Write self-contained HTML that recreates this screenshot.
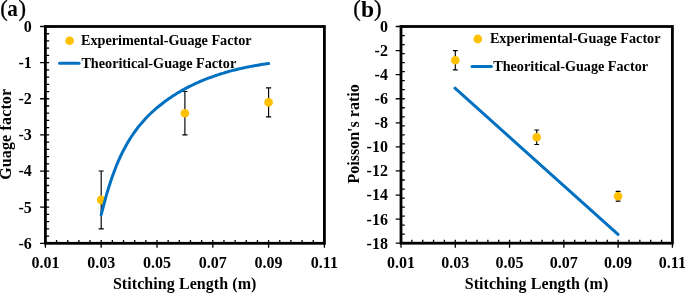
<!DOCTYPE html>
<html><head><meta charset="utf-8"><title>Figure</title>
<style>
html,body{margin:0;padding:0;background:#fff;}
body{width:685px;height:293px;overflow:hidden;}
svg text{font-family:"Liberation Serif",serif;font-weight:bold;fill:#000;}
.t16{font-size:16px;}
.lg{font-size:14.2px;}
.pl{font-size:22.5px;}
.pp{font-size:22.6px;font-weight:normal;stroke:#000;stroke-width:0.3px;}
</style></head><body>
<svg width="685" height="293" viewBox="0 0 685 293" style="display:block">
<rect x="0" y="0" width="685" height="293" fill="#ffffff"/>
<rect x="45.4" y="26.5" width="279.00" height="216.80" fill="none" stroke="#000" stroke-width="2.8"/>
<path d="M40.10 26.50H45.40M40.10 62.63H45.40M40.10 98.77H45.40M40.10 134.90H45.40M40.10 171.03H45.40M40.10 207.17H45.40M40.10 243.30H45.40M45.40 26.50H49.20M45.40 33.73H49.20M45.40 40.95H49.20M45.40 48.18H49.20M45.40 55.41H49.20M45.40 62.63H49.20M45.40 69.86H49.20M45.40 77.09H49.20M45.40 84.31H49.20M45.40 91.54H49.20M45.40 98.77H49.20M45.40 105.99H49.20M45.40 113.22H49.20M45.40 120.45H49.20M45.40 127.67H49.20M45.40 134.90H49.20M45.40 142.13H49.20M45.40 149.35H49.20M45.40 156.58H49.20M45.40 163.81H49.20M45.40 171.03H49.20M45.40 178.26H49.20M45.40 185.49H49.20M45.40 192.71H49.20M45.40 199.94H49.20M45.40 207.17H49.20M45.40 214.39H49.20M45.40 221.62H49.20M45.40 228.85H49.20M45.40 236.07H49.20M45.40 243.30H49.20M45.40 243.30V247.80M101.20 243.30V247.80M157.00 243.30V247.80M212.80 243.30V247.80M268.60 243.30V247.80M324.40 243.30V247.80M45.40 243.30V239.90M56.56 243.30V239.90M67.72 243.30V239.90M78.88 243.30V239.90M90.04 243.30V239.90M101.20 243.30V239.90M112.36 243.30V239.90M123.52 243.30V239.90M134.68 243.30V239.90M145.84 243.30V239.90M157.00 243.30V239.90M168.16 243.30V239.90M179.32 243.30V239.90M190.48 243.30V239.90M201.64 243.30V239.90M212.80 243.30V239.90M223.96 243.30V239.90M235.12 243.30V239.90M246.28 243.30V239.90M257.44 243.30V239.90M268.60 243.30V239.90M279.76 243.30V239.90M290.92 243.30V239.90M302.08 243.30V239.90M313.24 243.30V239.90M324.40 243.30V239.90" stroke="#000" stroke-width="1.3" fill="none"/>
<text x="31.8" y="31.90" text-anchor="end" class="t16">0</text>
<text x="31.8" y="68.03" text-anchor="end" class="t16">-1</text>
<text x="31.8" y="104.17" text-anchor="end" class="t16">-2</text>
<text x="31.8" y="140.30" text-anchor="end" class="t16">-3</text>
<text x="31.8" y="176.43" text-anchor="end" class="t16">-4</text>
<text x="31.8" y="212.57" text-anchor="end" class="t16">-5</text>
<text x="31.8" y="248.70" text-anchor="end" class="t16">-6</text>
<text x="45.40" y="268" text-anchor="middle" class="t16">0.01</text>
<text x="101.20" y="268" text-anchor="middle" class="t16">0.03</text>
<text x="157.00" y="268" text-anchor="middle" class="t16">0.05</text>
<text x="212.80" y="268" text-anchor="middle" class="t16">0.07</text>
<text x="268.60" y="268" text-anchor="middle" class="t16">0.09</text>
<text x="324.40" y="268" text-anchor="middle" class="t16">0.11</text>
<text x="184.70" y="288.7" text-anchor="middle" class="t16" letter-spacing="0.07">Stitching Length (m)</text>
<rect x="401.0" y="26.5" width="271.40" height="216.70" fill="none" stroke="#000" stroke-width="2.8"/>
<path d="M395.70 26.50H401.00M395.70 50.58H401.00M395.70 74.66H401.00M395.70 98.73H401.00M395.70 122.81H401.00M395.70 146.89H401.00M395.70 170.97H401.00M395.70 195.04H401.00M395.70 219.12H401.00M395.70 243.20H401.00M401.00 26.50H404.80M401.00 35.53H404.80M401.00 44.56H404.80M401.00 53.59H404.80M401.00 62.62H404.80M401.00 71.65H404.80M401.00 80.67H404.80M401.00 89.70H404.80M401.00 98.73H404.80M401.00 107.76H404.80M401.00 116.79H404.80M401.00 125.82H404.80M401.00 134.85H404.80M401.00 143.88H404.80M401.00 152.91H404.80M401.00 161.94H404.80M401.00 170.97H404.80M401.00 180.00H404.80M401.00 189.03H404.80M401.00 198.05H404.80M401.00 207.08H404.80M401.00 216.11H404.80M401.00 225.14H404.80M401.00 234.17H404.80M401.00 243.20H404.80M401.00 243.20V247.70M455.28 243.20V247.70M509.56 243.20V247.70M563.84 243.20V247.70M618.12 243.20V247.70M672.40 243.20V247.70M401.00 243.20V239.80M411.86 243.20V239.80M422.71 243.20V239.80M433.57 243.20V239.80M444.42 243.20V239.80M455.28 243.20V239.80M466.14 243.20V239.80M476.99 243.20V239.80M487.85 243.20V239.80M498.70 243.20V239.80M509.56 243.20V239.80M520.42 243.20V239.80M531.27 243.20V239.80M542.13 243.20V239.80M552.98 243.20V239.80M563.84 243.20V239.80M574.70 243.20V239.80M585.55 243.20V239.80M596.41 243.20V239.80M607.26 243.20V239.80M618.12 243.20V239.80M628.98 243.20V239.80M639.83 243.20V239.80M650.69 243.20V239.80M661.54 243.20V239.80M672.40 243.20V239.80" stroke="#000" stroke-width="1.3" fill="none"/>
<text x="387.9" y="31.90" text-anchor="end" class="t16">0</text>
<text x="387.9" y="55.98" text-anchor="end" class="t16">-2</text>
<text x="387.9" y="80.06" text-anchor="end" class="t16">-4</text>
<text x="387.9" y="104.13" text-anchor="end" class="t16">-6</text>
<text x="387.9" y="128.21" text-anchor="end" class="t16">-8</text>
<text x="387.9" y="152.29" text-anchor="end" class="t16">-10</text>
<text x="387.9" y="176.37" text-anchor="end" class="t16">-12</text>
<text x="387.9" y="200.44" text-anchor="end" class="t16">-14</text>
<text x="387.9" y="224.52" text-anchor="end" class="t16">-16</text>
<text x="387.9" y="248.60" text-anchor="end" class="t16">-18</text>
<text x="401.00" y="268" text-anchor="middle" class="t16">0.01</text>
<text x="455.28" y="268" text-anchor="middle" class="t16">0.03</text>
<text x="509.56" y="268" text-anchor="middle" class="t16">0.05</text>
<text x="563.84" y="268" text-anchor="middle" class="t16">0.07</text>
<text x="618.12" y="268" text-anchor="middle" class="t16">0.09</text>
<text x="672.40" y="268" text-anchor="middle" class="t16">0.11</text>
<text x="536.50" y="288.7" text-anchor="middle" class="t16" letter-spacing="0.07">Stitching Length (m)</text>
<text transform="translate(11.3 134.3) rotate(-90)" text-anchor="middle" class="t16" letter-spacing="0.15">Guage factor</text>
<text transform="translate(359.4 133.9) rotate(-90)" text-anchor="middle" class="t16">Poisson's ratio</text>
<text x="0.2" y="16" class="pp">(</text><text x="7.3" y="16.4" class="pl" transform="translate(7.3 0) scale(0.94 1) translate(-7.3 0)">a</text><text x="18.6" y="16" class="pp">)</text>
<text x="353.3" y="16" class="pp">(</text><text x="360.9" y="16.5" class="pl" style="font-size:23.5px">b</text><text x="374" y="16" class="pp">)</text>
<path d="M455 88.2L618 234.4" fill="none" stroke="#0070C0" stroke-width="3" stroke-linecap="round"/>
<path d="M101.2 171.0V228.8M98.6 171.0H103.8M98.6 228.8H103.8" stroke="#000" stroke-width="1.15" fill="none"/>
<circle cx="101.2" cy="199.9" r="4.3" fill="#FFC000"/>
<path d="M184.9 91.5V134.9M182.3 91.5H187.5M182.3 134.9H187.5" stroke="#000" stroke-width="1.15" fill="none"/>
<circle cx="184.9" cy="113.2" r="4.3" fill="#FFC000"/>
<path d="M268.6 87.9V116.8M266.0 87.9H271.2M266.0 116.8H271.2" stroke="#000" stroke-width="1.15" fill="none"/>
<circle cx="268.6" cy="102.4" r="4.3" fill="#FFC000"/>
<path d="M455.3 50.6V69.8M452.9 50.6H457.7M452.9 69.8H457.7" stroke="#000" stroke-width="1.15" fill="none"/>
<circle cx="455.3" cy="60.2" r="4.3" fill="#FFC000"/>
<path d="M536.7 130.0V144.5M534.3 130.0H539.1M534.3 144.5H539.1" stroke="#000" stroke-width="1.15" fill="none"/>
<circle cx="536.7" cy="137.3" r="4.3" fill="#FFC000"/>
<path d="M618.1 191.4V201.1M615.7 191.4H620.5M615.7 201.1H620.5" stroke="#000" stroke-width="1.15" fill="none"/>
<circle cx="618.1" cy="196.2" r="4.3" fill="#FFC000"/>
<path d="M101.2 214.7 L103.1 207.4 L105.0 200.4 L106.8 193.7 L108.7 187.5 L110.6 181.6 L112.5 176.1 L114.4 171.0 L116.2 166.2 L118.1 161.6 L120.0 157.4 L121.9 153.4 L123.8 149.7 L125.7 146.2 L127.5 142.9 L129.4 139.7 L131.3 136.8 L133.2 134.0 L135.1 131.3 L136.9 128.8 L138.8 126.4 L140.7 124.1 L142.6 121.9 L144.5 119.8 L146.3 117.8 L148.2 115.8 L150.1 114.0 L152.0 112.2 L153.9 110.5 L155.7 108.8 L157.6 107.2 L159.5 105.7 L161.4 104.2 L163.3 102.7 L165.2 101.3 L167.0 100.0 L168.9 98.6 L170.8 97.4 L172.7 96.1 L174.6 94.9 L176.4 93.8 L178.3 92.6 L180.2 91.5 L182.1 90.4 L184.0 89.4 L185.8 88.4 L187.7 87.4 L189.6 86.4 L191.5 85.5 L193.4 84.6 L195.2 83.7 L197.1 82.9 L199.0 82.0 L200.9 81.2 L202.8 80.4 L204.6 79.7 L206.5 78.9 L208.4 78.2 L210.3 77.5 L212.2 76.8 L214.1 76.1 L215.9 75.5 L217.8 74.9 L219.7 74.2 L221.6 73.6 L223.5 73.1 L225.3 72.5 L227.2 72.0 L229.1 71.4 L231.0 70.9 L232.9 70.4 L234.7 70.0 L236.6 69.5 L238.5 69.0 L240.4 68.6 L242.3 68.2 L244.1 67.8 L246.0 67.4 L247.9 67.0 L249.8 66.6 L251.7 66.3 L253.6 65.9 L255.4 65.6 L257.3 65.2 L259.2 64.9 L261.1 64.6 L263.0 64.3 L264.8 64.1 L266.7 63.8 L268.6 63.5" fill="none" stroke="#0070C0" stroke-width="3" stroke-linecap="round" stroke-linejoin="round"/>
<circle cx="69.6" cy="40.8" r="4.3" fill="#FFC000"/>
<text x="81" y="44.8" class="lg">Experimental-Guage Factor</text>
<path d="M59.5 63.3H79" stroke="#0070C0" stroke-width="3" stroke-linecap="round"/>
<text x="81.4" y="67.9" class="lg">Theoritical-Guage Factor</text>
<circle cx="477.8" cy="39" r="4.4" fill="#FFC000"/>
<text x="489.9" y="43" class="lg">Experimental-Guage Factor</text>
<path d="M472 66.5H491.4" stroke="#0070C0" stroke-width="3" stroke-linecap="round"/>
<text x="493.2" y="71" class="lg">Theoritical-Guage Factor</text>
</svg>
</body></html>
